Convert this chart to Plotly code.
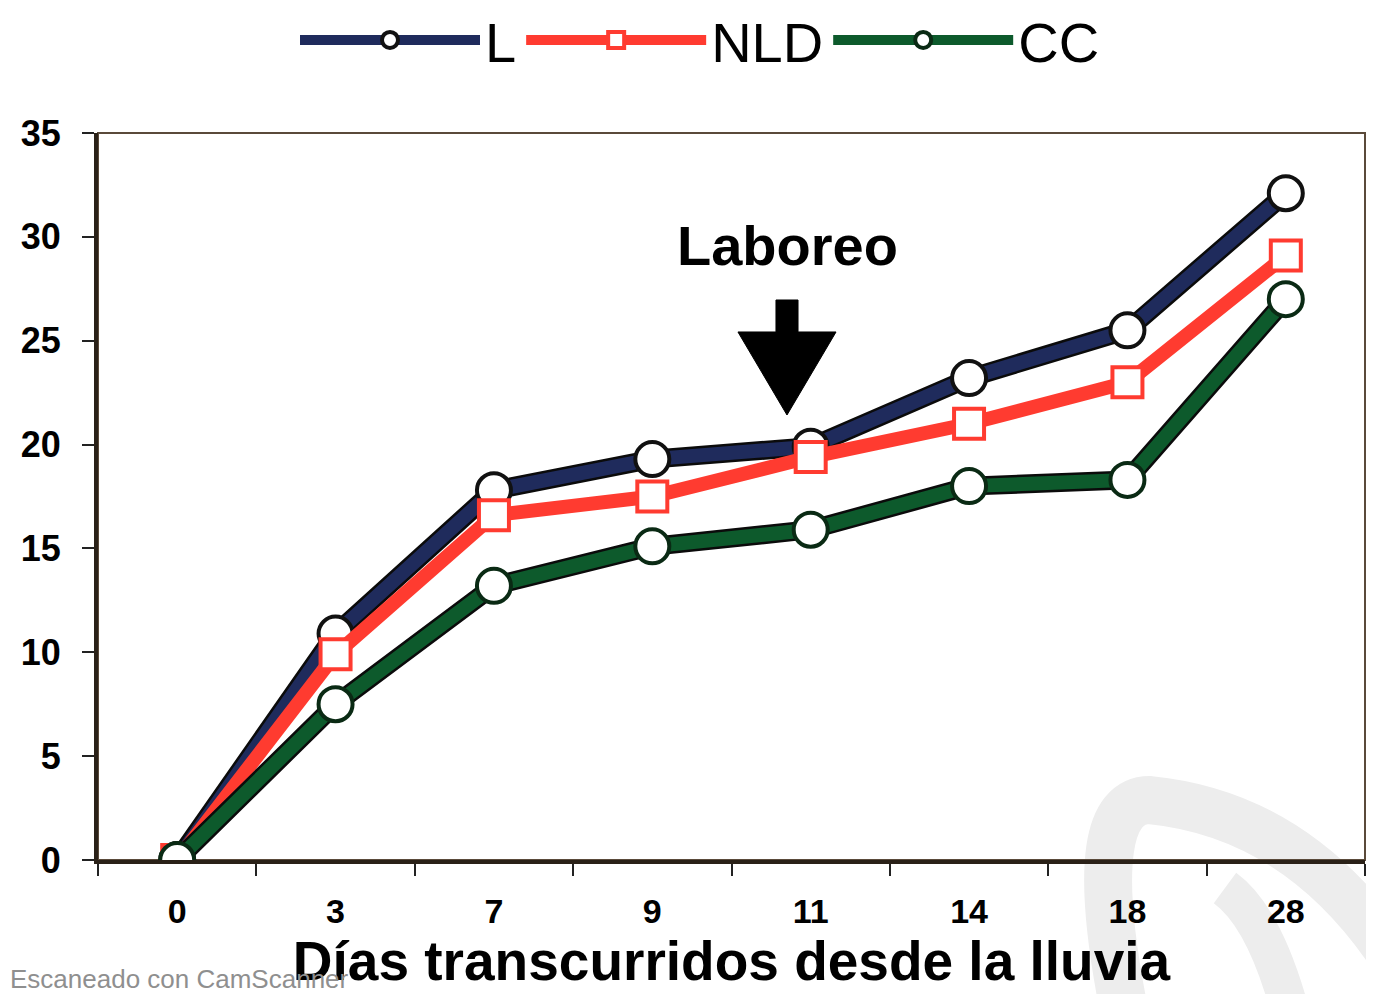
import plotly.graph_objects as go

# ── data ────────────────────────────────────────────────────────────────────
dias = ["0", "3", "7", "9", "11", "14", "18", "28"]
serie_l = [0, 10.9, 17.8, 19.3, 19.9, 23.2, 25.5, 32.1]
serie_nld = [0, 9.9, 16.6, 17.5, 19.4, 21.0, 23.0, 29.1]
serie_cc = [0, 7.5, 13.2, 15.1, 15.9, 18.0, 18.3, 27.0]

NAVY = "#1f2b5c"
RED = "#ff3b30"
GREEN = "#0d5a2c"
FONT = "Liberation Sans, Arial, sans-serif"

# page body has an 8px margin -> figure is drawn 8px in from the window corner
OFF = 8
W, H = 1374 - OFF, 994 - OFF
# plot area in window pixels
L_PX, R_PX, T_PX, B_PX = 98, 1365, 133, 860


def px(x, y):
    """window pixel -> paper coords"""
    return (x - L_PX) / (R_PX - L_PX), (B_PX - y) / (B_PX - T_PX)


def path_px(pts, close=True):
    s = ""
    for cmd, coords in pts:
        xy = []
        for j in range(0, len(coords), 2):
            a, b = px(coords[j], coords[j + 1])
            xy.append(f"{a:.4f},{b:.4f}")
        s += f"{cmd} " + " ".join(xy) + " "
    return s + ("Z" if close else "")


fig = go.Figure()

series = [
    ("L", serie_l, NAVY, "circle", "#111111", True),
    ("NLD", serie_nld, RED, "square", RED, False),
    ("CC", serie_cc, GREEN, "circle", "#0a2a14", True),
]

for name, vals, col, sym, edge, outline in series:
    if outline:
        # dark edge under the thick line
        fig.add_trace(go.Scatter(
            x=dias, y=vals, mode="lines", showlegend=False, hoverinfo="skip",
            line=dict(color="#0b0b0b", width=19),
        ))
    fig.add_trace(go.Scatter(
        x=dias, y=vals, mode="lines+markers", name=name,
        line=dict(color=col, width=14),
        marker=dict(symbol=sym, size=34 if sym == "circle" else 30,
                    color="white", line=dict(color=edge, width=4)),
    ))

# faint scanner logo (bottom right)
fig.add_shape(type="path", xref="paper", yref="paper", layer="below",
              path=path_px([("M", (1122, 1000)), ("Q", (1084, 800, 1150, 800)),
                            ("Q", (1300, 815, 1395, 960))], close=False),
              line=dict(color="#ededed", width=48))
fig.add_shape(type="path", xref="paper", yref="paper", layer="below",
              path=path_px([("M", (1225, 888)), ("Q", (1262, 915, 1287, 1000))],
                           close=False),
              line=dict(color="#ededed", width=38))

# frame (top/right thinner)
fig.add_shape(type="rect", xref="paper", yref="paper", x0=0, y0=0, x1=1, y1=1,
              line=dict(color="#5a4a3a", width=2), layer="below")

# Laboreo arrow
fig.add_shape(
    type="path", xref="paper", yref="paper",
    path=path_px([("M", (776, 300)), ("L", (798, 300)), ("L", (798, 332)),
                  ("L", (836, 332)), ("L", (787, 415)), ("L", (738, 332)),
                  ("L", (776, 332))]),
    fillcolor="black", line=dict(color="black", width=1),
)
lx, ly = px(787, 245)
fig.add_annotation(
    xref="paper", yref="paper", x=lx, y=ly, xanchor="center", yanchor="middle",
    text="<b>Laboreo</b>", showarrow=False,
    font=dict(family=FONT, size=56, color="black"),
)

# scanner watermark
wx, wy = px(8, 996)
fig.add_annotation(
    xref="paper", yref="paper", x=wx, y=wy, xanchor="left", yanchor="bottom",
    text="Escaneado con CamScanner", showarrow=False,
    font=dict(family=FONT, size=26, color="#8f8f8f"),
)

gx, gy = px(700, 40)
fig.update_layout(
    width=W, height=H,
    margin=dict(l=L_PX - OFF, r=W - (R_PX - OFF), t=T_PX - OFF,
                b=H - (B_PX - OFF), autoexpand=False),
    plot_bgcolor="white", paper_bgcolor="white",
    font=dict(family=FONT, color="black"),
    showlegend=True,
    legend=dict(
        orientation="h", x=gx, xanchor="center", xref="paper",
        y=gy, yanchor="middle", yref="paper",
        font=dict(family=FONT, size=56, color="black"),
        itemwidth=180, tracegroupgap=0, bgcolor="rgba(0,0,0,0)",
    ),
    xaxis=dict(
        type="category", range=[-0.5, 7.5], tickson="boundaries",
        ticks="outside", ticklen=12, tickwidth=2, tickcolor="#222",
        showline=True, linewidth=4, linecolor="#2a2118", automargin=False,
        showgrid=False, zeroline=False, ticklabelstandoff=18,
        tickfont=dict(family=FONT, size=34, color="black"),
        tickprefix="<b>", ticksuffix="</b>",
        title=dict(text="<b>Días transcurridos desde la lluvia</b>",
                   font=dict(family=FONT, size=55, color="black"), standoff=4),
    ),
    yaxis=dict(
        range=[0, 35], dtick=5, ticks="outside", ticklen=12, tickwidth=2,
        tickcolor="#222", showline=True, linewidth=4, linecolor="#2a2118",
        showgrid=False, zeroline=False, ticklabelstandoff=14, automargin=False,
        tickfont=dict(family=FONT, size=36, color="black"),
        tickprefix="<b>", ticksuffix="</b>",
    ),
)

fig.write_html("out.html")
